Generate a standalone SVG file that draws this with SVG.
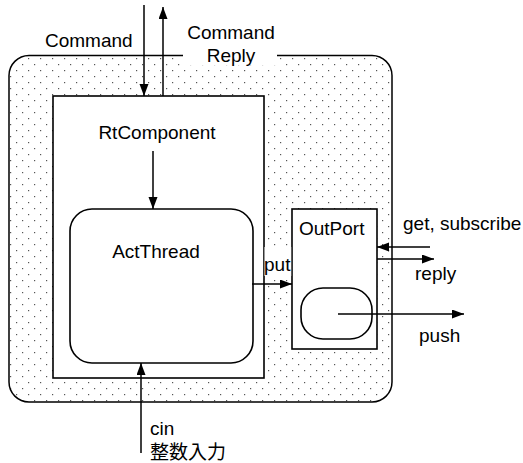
<svg xmlns="http://www.w3.org/2000/svg" width="523" height="463" viewBox="0 0 523 463">
  <style>
    text { font-family: "Liberation Sans", Arial, "Noto Sans CJK JP", sans-serif; font-size: 19px; fill: #000; }
    .box { fill: #fff; stroke: #000; stroke-width: 1.6; }
    .edge { fill: none; stroke: #000; stroke-width: 1.5; }
    .arrow { fill: none; stroke: #000; stroke-width: 1.5; marker-end: url(#head); }
    .mask { fill: #fff; stroke: none; }
  </style>
  <defs>
    <pattern id="dots" patternUnits="userSpaceOnUse" width="12" height="12">
      <rect x="4" y="10" width="1.2" height="1.2" fill="#555"/>
      <rect x="10" y="4" width="1.2" height="1.2" fill="#555"/>
    </pattern>
    <marker id="head" markerUnits="userSpaceOnUse" markerWidth="12" markerHeight="10" refX="12" refY="4.5" orient="auto">
      <path d="M0,0 L12,4.5 L0,9 z" fill="#000"/>
    </marker>
  </defs>

  <rect width="523" height="463" fill="#fff"/>

  <!-- outer container: dotted area with a gap in the top edge for the label -->
  <g id="container">
    <rect x="9" y="55.5" width="383" height="346.5" rx="20" ry="20" fill="url(#dots)" stroke="none"/>
    <rect class="mask" x="183" y="22" width="94" height="43"/>
    <path class="edge" d="M183,55.5 H29 A20,20 0 0 0 9,75.5 V382 A20,20 0 0 0 29,402 H372 A20,20 0 0 0 392,382 V75.5 A20,20 0 0 0 372,55.5 H277" stroke-width="1.8"/>
  </g>

  <g id="rtcomponent">
    <rect class="box" x="53" y="96" width="211" height="282"/>
    <text x="157" y="139" text-anchor="middle">RtComponent</text>
  </g>

  <g id="actthread">
    <rect class="box" x="70" y="209" width="183" height="154" rx="22" ry="22"/>
    <text x="156" y="258" text-anchor="middle">ActThread</text>
  </g>

  <g id="outport">
    <rect class="box" x="292" y="209" width="85" height="140"/>
    <text x="299" y="235">OutPort</text>
    <rect class="box" x="301" y="288" width="71" height="51" rx="22" ry="22"/>
  </g>

  <!-- label backing that breaks the borders around "put" -->
  <g id="put-label">
    <rect class="mask" x="264.5" y="247" width="26.7" height="29"/>
    <text x="264" y="271">put</text>
  </g>

  <g id="connectors">
    <line class="arrow" x1="144" y1="5" x2="144" y2="96"/>
    <line class="arrow" x1="163" y1="96" x2="163" y2="7"/>
    <line class="arrow" x1="153" y1="151" x2="153" y2="209"/>
    <line class="arrow" x1="252" y1="284" x2="292" y2="284"/>
    <line class="arrow" x1="430" y1="247" x2="377" y2="247"/>
    <line class="arrow" x1="377" y1="259" x2="434" y2="259"/>
    <line class="arrow" x1="338" y1="314" x2="464" y2="314"/>
    <line class="arrow" x1="141" y1="453" x2="141" y2="363"/>
  </g>

  <g id="labels">
    <text x="45" y="47">Command</text>
    <text x="231" y="39" text-anchor="middle">Command</text>
    <text x="231" y="62" text-anchor="middle">Reply</text>
    <text x="403" y="230">get, subscribe</text>
    <text x="415" y="280">reply</text>
    <text x="419" y="342">push</text>
    <text x="150" y="435">cin</text>
    <text x="150" y="459">整数入力</text>
  </g>
</svg>
